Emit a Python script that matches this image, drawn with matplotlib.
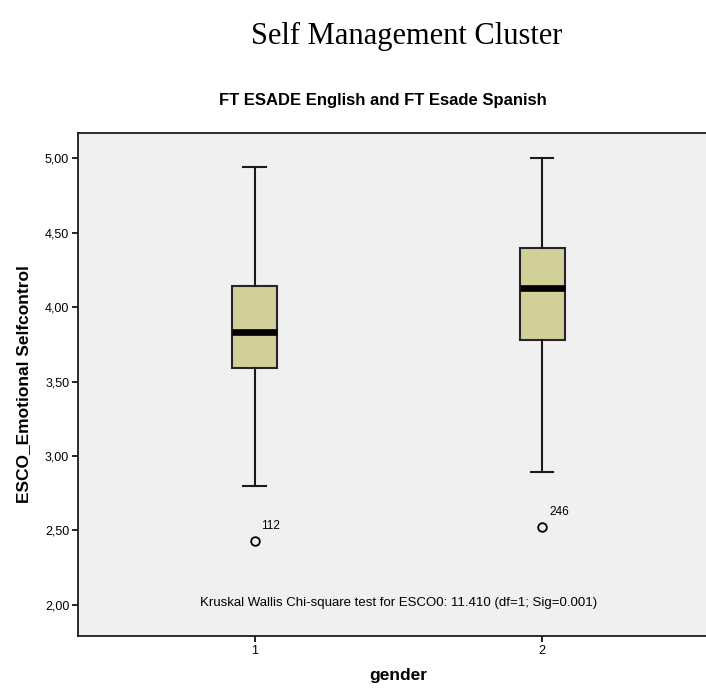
"""Box plot of emotional self-control scores by gender."""

import matplotlib
matplotlib.use("Agg")
import matplotlib.pyplot as plt
from matplotlib.ticker import FuncFormatter

# Summary statistics per gender group
groups = [1, 2]
whisker_low = [2.80, 2.89]
q1 = [3.59, 3.78]
median = [3.83, 4.13]
q3 = [4.14, 4.40]
whisker_high = [4.94, 5.00]
outliers = [[2.43], [2.525]]
outlier_ids = [["112"], ["246"]]

yticks = [2.0, 2.5, 3.0, 3.5, 4.0, 4.5, 5.0]
test_note = "Kruskal Wallis Chi-square test for ESCO0: 11.410 (df=1; Sig=0.001)"

plt.rcParams["font.family"] = ["Liberation Sans", "DejaVu Sans"]

fig = plt.figure(figsize=(7.06, 6.91), dpi=100)
ax = fig.add_axes([0.1105, 0.0796, 0.9075, 0.7279])
ax.set_facecolor("#f0f0f0")

stats = []
for i, g in enumerate(groups):
    stats.append({
        "med": median[i], "q1": q1[i], "q3": q3[i],
        "whislo": whisker_low[i], "whishi": whisker_high[i],
        "fliers": outliers[i], "label": str(g),
    })

ax.bxp(
    stats, positions=groups, widths=0.156, patch_artist=True,
    boxprops=dict(facecolor="#d3cf98", edgecolor="#262626", linewidth=1.5),
    medianprops=dict(color="black", linewidth=4.8, solid_capstyle="butt"),
    whiskerprops=dict(color="#1a1a1a", linewidth=1.5),
    capprops=dict(color="#1a1a1a", linewidth=1.5),
    capwidths=0.078,
    flierprops=dict(marker="o", markersize=6.2, markerfacecolor="none",
                    markeredgecolor="black", markeredgewidth=1.3),
)

for i, g in enumerate(groups):
    for val, lab in zip(outliers[i], outlier_ids[i]):
        ax.annotate(lab, (g, val), xytext=(5, 6), textcoords="offset points",
                    fontsize=8.5, ha="left", va="bottom")

ax.text(0.5, 0.065, test_note, transform=ax.transAxes, ha="center",
        va="center", fontsize=9.5)

ax.set_xlim(0.386, 2.614)
ax.set_ylim(1.79, 5.17)
ax.set_xticks(groups)
ax.set_xticklabels([str(g) for g in groups])
ax.set_yticks(yticks)
ax.yaxis.set_major_formatter(FuncFormatter(lambda v, p: f"{v:.2f}".replace(".", ",")))
ax.tick_params(axis="both", length=4.3, width=1.2, labelsize=9, pad=2)

for s in ax.spines.values():
    s.set_linewidth(1.3)
    s.set_color("#1a1a1a")

ax.set_xlabel("gender", fontsize=12.5, fontweight="bold", labelpad=8)
ax.set_ylabel("ESCO_Emotional Selfcontrol", fontsize=12.5, fontweight="bold", labelpad=10)

fig.text(0.5425, 0.855, "FT ESADE English and FT Esade Spanish",
         ha="center", va="center", fontsize=12, fontweight="bold")
fig.text(0.576, 0.947, "Self Management Cluster", ha="center", va="center",
         fontsize=22, family="Liberation Serif")

fig.savefig("out.png", dpi=100)
